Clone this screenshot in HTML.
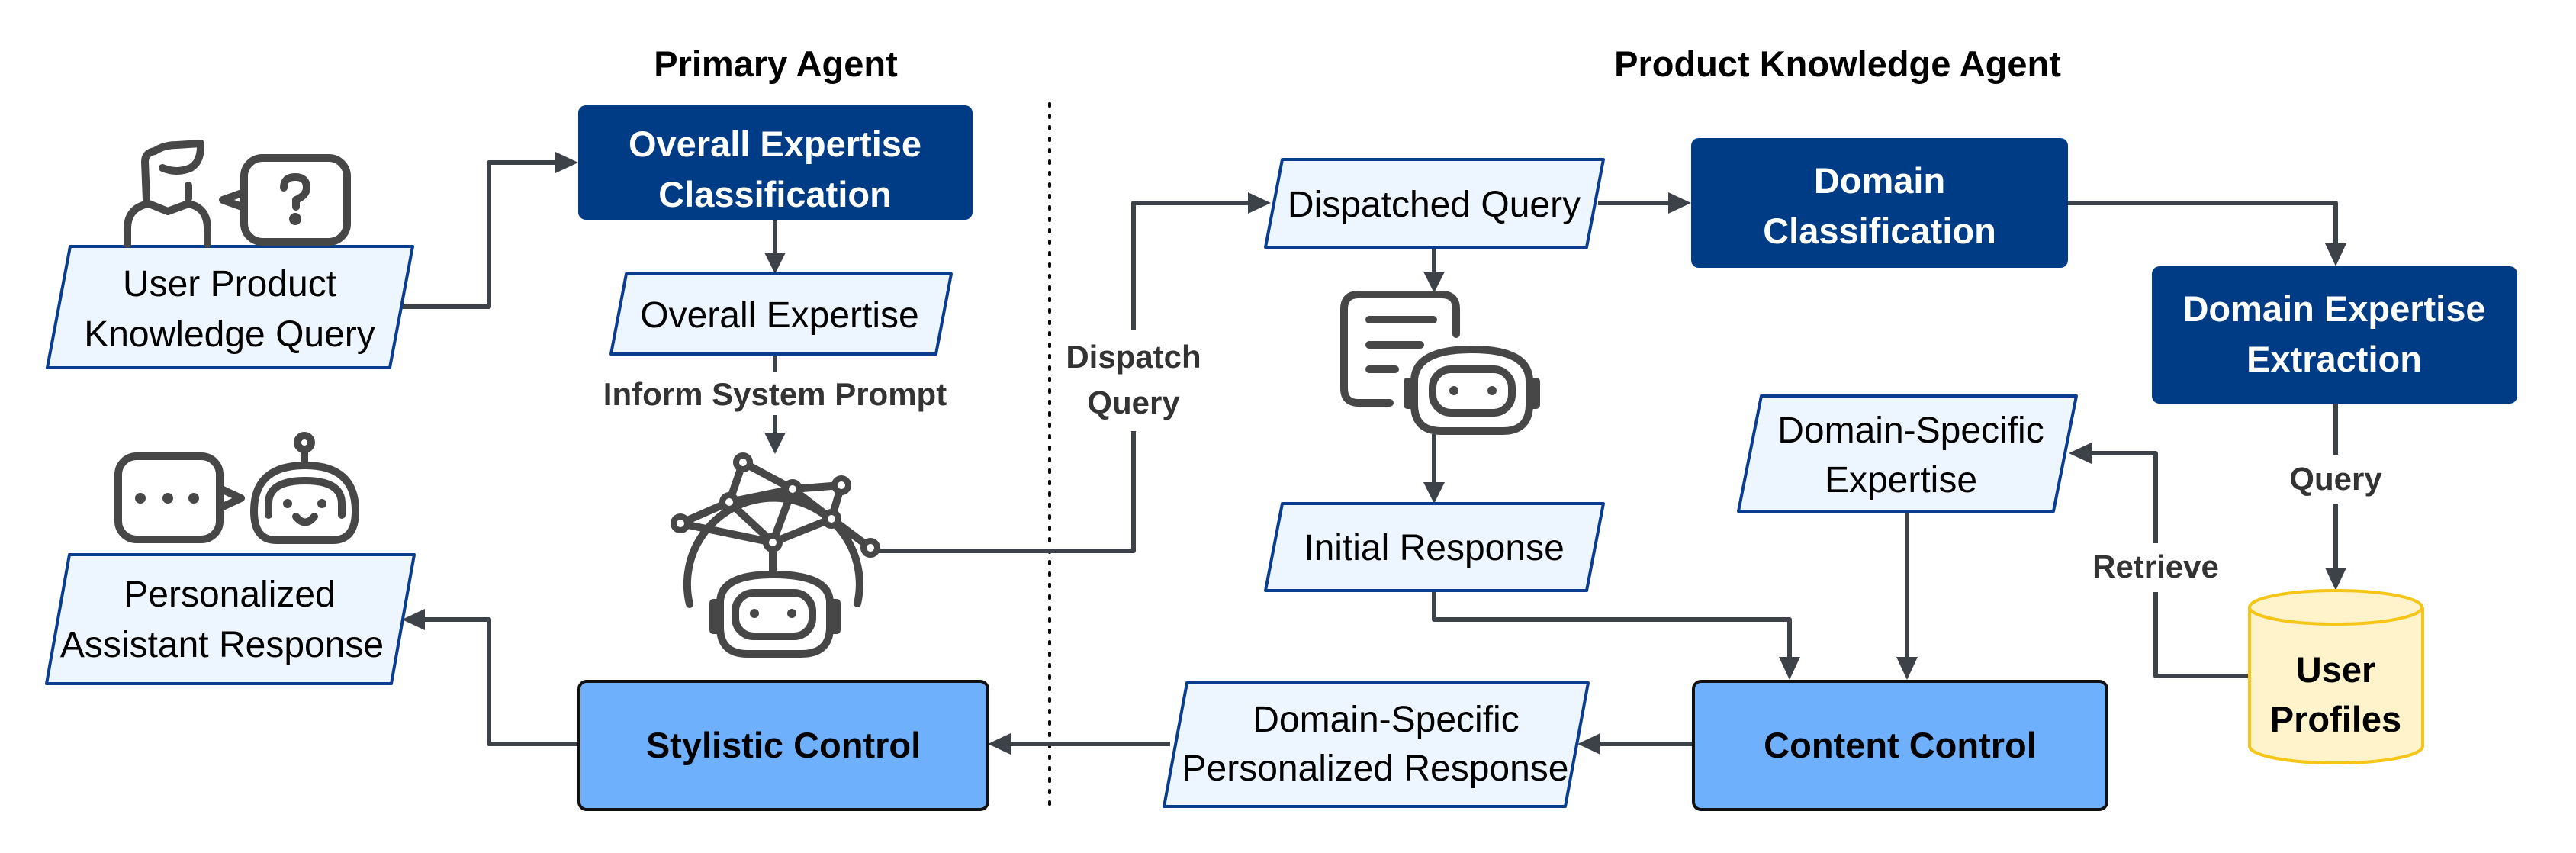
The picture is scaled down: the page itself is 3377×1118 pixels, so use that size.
<!DOCTYPE html>
<html><head><meta charset="utf-8"><style>
html,body{margin:0;padding:0;background:#fff}
svg{display:block}
text{font-family:"Liberation Sans",sans-serif}
.t{font-size:48px;fill:#000;text-anchor:middle}
.b{font-size:47px;font-weight:bold;fill:#fff;text-anchor:middle}
.bk{font-size:47px;font-weight:bold;fill:#000;text-anchor:middle}
.h{font-size:47px;font-weight:bold;fill:#000;text-anchor:middle}
.l{font-size:42px;font-weight:bold;fill:#333;text-anchor:middle}
.p{fill:#edf5fe;stroke:#0a3d8f;stroke-width:4;stroke-linejoin:round}
.ln{fill:none;stroke:#3d4249;stroke-width:6;stroke-linejoin:round}
.ic{fill:none;stroke:#474747;stroke-width:10;stroke-linecap:round;stroke-linejoin:round}
.ah{fill:#3d4249}
</style></head><body>
<svg width="3377" height="1118" viewBox="0 0 3377 1118" xmlns="http://www.w3.org/2000/svg">
<text class="h" x="1017" y="100">Primary Agent</text>
<text class="h" x="2409" y="100">Product Knowledge Agent</text>
<line x1="1376" y1="136" x2="1376" y2="1056" stroke="#000" stroke-width="4" stroke-dasharray="3,12" stroke-linecap="round"/>

<path class="ln" d="M527,402 H641 V213 H730"/>
<polygon class="ah" points="758,213 728,199 728,227"/>
<path class="ln" d="M1016,289 V335"/>
<polygon class="ah" points="1016,359 1002,331 1030,331"/>
<path class="ln" d="M1016,464 V488 M1016,544 V570"/>
<polygon class="ah" points="1016,595 1002,567 1030,567"/>
<path class="ln" d="M1146,722 H1486 V565 M1486,432 V266 H1640"/>
<polygon class="ah" points="1666,266 1636,252 1636,280"/>
<path class="ln" d="M2095,266 H2192"/>
<polygon class="ah" points="2217,266 2187,252 2187,280"/>
<path class="ln" d="M2711,266 H3062 V325"/>
<polygon class="ah" points="3062,349 3048,319 3076,319"/>
<path class="ln" d="M3062,529 V596 M3062,660 V750"/>
<polygon class="ah" points="3062,774 3048,744 3076,744"/>
<path class="ln" d="M2949,886 H2826 V776 M2826,712 V594 H2740"/>
<polygon class="ah" points="2712,594 2742,580 2742,608"/>
<path class="ln" d="M2500,670 V866"/>
<polygon class="ah" points="2500,891 2486,861 2514,861"/>
<path class="ln" d="M1880,324 V360"/>
<polygon class="ah" points="1880,384 1866,356 1894,356"/>
<path class="ln" d="M1880,569 V636"/>
<polygon class="ah" points="1880,660 1866,632 1894,632"/>
<path class="ln" d="M1880,774 V812 H2346 V866"/>
<polygon class="ah" points="2346,891 2332,861 2360,861"/>
<path class="ln" d="M2220,975 H2092"/>
<polygon class="ah" points="2068,975 2098,961 2098,989"/>
<path class="ln" d="M1534,975 H1320"/>
<polygon class="ah" points="1295,975 1325,961 1325,989"/>
<path class="ln" d="M759,975 H641 V812 H552"/>
<polygon class="ah" points="527,812 557,798 557,826"/>

<text class="l" x="1016" y="531">Inform System Prompt</text>
<text class="l" x="1486" y="482">Dispatch</text>
<text class="l" x="1486" y="542">Query</text>
<text class="l" x="3062" y="642">Query</text>
<text class="l" x="2826" y="757">Retrieve</text>

<rect x="758" y="138" width="517" height="150" rx="10" fill="#003c85"/>
<text class="b" x="1016" y="205">Overall Expertise</text>
<text class="b" x="1016" y="271">Classification</text>
<rect x="2217" y="181" width="494" height="170" rx="10" fill="#003c85"/>
<text class="b" x="2464" y="253">Domain</text>
<text class="b" x="2464" y="319">Classification</text>
<rect x="2821" y="349" width="479" height="180" rx="10" fill="#003c85"/>
<text class="b" x="3060" y="421">Domain Expertise</text>
<text class="b" x="3060" y="487">Extraction</text>

<rect x="759" y="893" width="536" height="168" rx="10" fill="#6fb0fd" stroke="#111" stroke-width="4"/>
<text class="bk" x="1027" y="993">Stylistic Control</text>
<rect x="2220" y="893" width="542" height="168" rx="10" fill="#6fb0fd" stroke="#111" stroke-width="4"/>
<text class="bk" x="2491" y="993">Content Control</text>

<polygon class="p" points="92,323 541,323 511,482 62,482"/>
<text class="t" x="301" y="388">User Product</text>
<text class="t" x="301" y="454">Knowledge Query</text>
<polygon class="p" points="821,359 1247,359 1227,464 801,464"/>
<text class="t" x="1022" y="429">Overall Expertise</text>
<polygon class="p" points="1681,209 2102,209 2080,324 1659,324"/>
<text class="t" x="1880" y="284">Dispatched Query</text>
<polygon class="p" points="1681,660 2102,660 2080,774 1659,774"/>
<text class="t" x="1880" y="734">Initial Response</text>
<polygon class="p" points="2309,519 2722,519 2692,670 2279,670"/>
<text class="t" x="2505" y="580">Domain-Specific</text>
<text class="t" x="2492" y="645">Expertise</text>
<polygon class="p" points="91,727 543,727 513,896 61,896"/>
<text class="t" x="301" y="795">Personalized</text>
<text class="t" x="291" y="861">Assistant Response</text>
<polygon class="p" points="1556,895 2082,895 2052,1057 1526,1057"/>
<text class="t" x="1817" y="959">Domain-Specific</text>
<text class="t" x="1803" y="1023">Personalized Response</text>

<path d="M2949,796 V978 A113,22 0 0 0 3176,978 V796" fill="#fff3cc" stroke="#f5c518" stroke-width="4"/>
<ellipse cx="3062" cy="796" rx="113" ry="22" fill="#fff3cc" stroke="#f5c518" stroke-width="4"/>
<text class="bk" x="3062" y="894">User</text>
<text class="bk" x="3062" y="959">Profiles</text>

<!-- person -->
<g class="ic">
<path d="M192,263 L190,212 Q190,200 203,198 Q215,190 232,190 L263,188 Q264,212 250,220 Q232,228 213,220"/>
<path d="M247,243 V260"/>
<path d="M167,320 V300 Q167,272 195,267 L220,277 L247,267 Q272,272 272,300 V320"/>
<rect x="320" y="207" width="135" height="110" rx="24"/>
<path d="M320,252 L292,262 L320,272"/>
<path d="M372,246 Q372,232 387,232 Q402,232 402,246 Q402,256 388,262 V271"/>
<circle cx="387" cy="287" r="3" fill="#474747"/>
</g>
<!-- chat robot -->
<g class="ic">
<rect x="155" y="598" width="133" height="109" rx="24"/>
<path d="M288,640 L316,653 L288,666"/>
<path d="M399,590 V610"/>
<circle cx="399" cy="580" r="9"/>
<path d="M333,670 Q333,610 400,610 Q466,610 466,670 Q466,708 436,708 H362 Q333,708 333,670 Z"/>
<path d="M352,675 V660 Q352,630 400,630 Q448,630 448,660 V675"/>
<path d="M388,677 Q400,692 412,677"/>
</g>
<circle cx="184" cy="653" r="7" fill="#474747"/><circle cx="220" cy="653" r="7" fill="#474747"/><circle cx="254" cy="653" r="7" fill="#474747"/>
<circle cx="377" cy="660" r="6" fill="#474747"/><circle cx="422" cy="660" r="6" fill="#474747"/>

<!-- brain globe robot -->
<g class="ic">
<path d="M904,792 A113,113 0 1 1 1124,791"/>
<path d="M974,606 L1039,641 L1103,636 M974,606 L956,658 L892,686 M956,658 L1039,641 L1013,711 M956,658 L1013,711 L892,686 M1039,641 L1090,680 L1103,636 M1013,711 L1090,680 L1141,718"/>
<path d="M1013,711 V753"/>
<path d="M944,790 Q944,753 1013,753 Q1088,753 1088,790 V822 Q1088,857 1050,857 H980 Q944,857 944,822 Z"/>
<path d="M944,790 H935 V826 H944 M1088,790 H1097 V826 H1088"/>
<rect x="964" y="777" width="101" height="57" rx="24"/>
</g>
<g fill="#fff" stroke="#474747" stroke-width="8">
<circle cx="974" cy="606" r="9"/><circle cx="1039" cy="641" r="9"/><circle cx="1103" cy="636" r="9"/><circle cx="956" cy="658" r="9"/><circle cx="892" cy="686" r="9"/><circle cx="1090" cy="680" r="9"/><circle cx="1013" cy="711" r="9"/><circle cx="1141" cy="718" r="9"/>
</g>
<circle cx="989" cy="804" r="6" fill="#474747"/><circle cx="1038" cy="804" r="6" fill="#474747"/>

<!-- doc robot -->
<g class="ic">
<path d="M1909,438 V405 Q1909,386 1890,386 H1781 Q1762,386 1762,405 V509 Q1762,528 1781,528 H1822"/>
<path d="M1795,419 H1879 M1795,452 H1862 M1795,484 H1829"/>
<path d="M1854,500 Q1854,458 1930,458 Q2005,458 2005,500 V530 Q2005,565 1970,565 H1890 Q1854,565 1854,530 Z" fill="#fff"/>
<path d="M1854,500 H1845 V531 H1854 M2005,500 H2014 V531 H2005"/>
<rect x="1878" y="484" width="104" height="57" rx="24"/>
</g>
<circle cx="1906" cy="512" r="6" fill="#474747"/><circle cx="1956" cy="512" r="6" fill="#474747"/>
</svg>
</body></html>
